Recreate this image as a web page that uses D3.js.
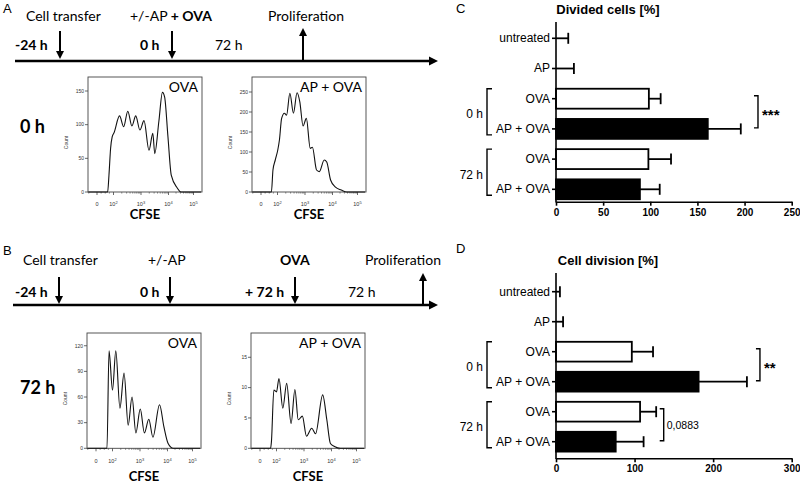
<!DOCTYPE html>
<html><head><meta charset="utf-8">
<script src="https://cdn.jsdelivr.net/npm/d3@7"></script>
<style>body{margin:0;background:#fff}svg{display:block}</style>
</head><body><svg id="c" width="800" height="483"></svg>
<script>
// ---------- DATA ----------
// Histogram CFSE axis (logicle decades) and tick labels
const histTickPos = [0, 2, 3, 4, 5];
const histTickExp = [null, "2", "3", "4", "5"];

// Panel A, 0 h, OVA
const a1X = [-1.05, 1.29, 1.45, 1.65, 1.84, 2.02, 2.22, 2.37, 2.52, 2.67, 2.81, 2.96, 3.11, 3.29, 3.43, 3.5, 3.65, 3.78, 3.86, 3.98, 4.11, 4.35, 4.5, 5.3];
const a1Y = [0, 0, 25, 65, 82, 88, 113, 97, 120, 98, 113, 92, 106, 62, 87, 57, 105, 148, 141, 82, 25, 6, 0, 0];
const a1Ticks = [0, 50, 100, 150];
// Panel A, 0 h, AP + OVA
const a2X = [-1.05, 1.26, 1.45, 1.73, 2.01, 2.07, 2.15, 2.25, 2.33, 2.45, 2.58, 2.71, 2.81, 2.93, 3.05, 3.19, 3.27, 3.42, 3.52, 3.70, 3.79, 3.93, 4.12, 4.35, 4.57, 5.3];
const a2Y = [0, 0, 55, 80, 105, 130, 184, 197, 192, 247, 197, 248, 226, 165, 184, 109, 112, 55, 51, 80, 75, 30, 12, 5, 0, 0];
const a2Ticks = [0, 50, 100, 150, 200, 250];
// Panel B, 72 h, OVA
const b1X = [-1.05, 1.33, 1.58, 2.0, 2.12, 2.27, 2.42, 2.57, 2.71, 2.85, 3.01, 3.16, 3.32, 3.47, 3.71, 3.87, 4.02, 4.23, 5.3];
const b1Y = [0, 0, 114, 68, 114, 47, 88, 27, 60, 18, 46, 18, 34, 13, 51, 25, 6, 0, 0];
const b1Ticks = [0, 30, 60, 90, 120];
// Panel B, 72 h, AP + OVA
const b2X = [-1.05, 1.28, 1.38, 1.68, 2.0, 2.09, 2.23, 2.37, 2.53, 2.67, 2.79, 2.94, 3.09, 3.28, 3.42, 3.68, 3.83, 3.96, 4.12, 4.35, 5.3];
const b2Y = [0, 0, 1, 9.6, 9.3, 11.5, 6.6, 10.7, 4.1, 9.7, 4.7, 5.3, 2.0, 3.3, 2.4, 8.8, 4.7, 0.8, 0.3, 0, 0];
const b2Ticks = [0, 5, 10, 15];

// Bar charts
const categories = ["untreated", "AP", "OVA", "AP + OVA", "OVA", "AP + OVA"];
const groups = [{label: "0 h", from: 2, to: 3}, {label: "72 h", from: 4, to: 5}];
const dividedMean = [0, 0, 98.5, 161, 98, 89];
const dividedUpper = [13, 19, 111, 196, 122, 110];
const dividedTicks = [0, 50, 100, 150, 200, 250];
const dividedSig = [{from: 2, to: 3, at: 210, label: "***"}];
const divisionMean = [0, 0, 96.5, 181.5, 107, 76];
const divisionUpper = [5, 9, 123.5, 243, 127.5, 111.5];
const divisionTicks = [0, 100, 200, 300];
const divisionSig = [{from: 2, to: 3, at: 254.5, label: "**"}, {from: 4, to: 5, at: 132, label: "0,0883"}];

// ---------- DRAW ----------
const svg = d3.select("#c");
const SANS = "'Liberation Sans', Arial, sans-serif";
const CAL = "Lato, 'Open Sans', sans-serif";

function txt(x, y, s, size, opts = {}) {
  return svg.append("text").attr("x", x).attr("y", y).text(s)
    .attr("font-family", opts.family || CAL).attr("font-size", size)
    .attr("font-weight", opts.bold ? "bold" : "normal")
    .attr("text-anchor", opts.anchor || "start").attr("fill", "#000");
}
function arrowDown(x, y1, y2) {
  svg.append("line").attr("x1", x).attr("x2", x).attr("y1", y1).attr("y2", y2 - 6).attr("stroke", "#000").attr("stroke-width", 2);
  svg.append("path").attr("d", `M${x - 4},${y2 - 8}L${x + 4},${y2 - 8}L${x},${y2}Z`).attr("fill", "#000");
}
function arrowUp(x, y1, y2) {
  svg.append("line").attr("x1", x).attr("x2", x).attr("y1", y1).attr("y2", y2 + 6).attr("stroke", "#000").attr("stroke-width", 2);
  svg.append("path").attr("d", `M${x - 4},${y2 + 8}L${x + 4},${y2 + 8}L${x},${y2}Z`).attr("fill", "#000");
}
function timeline(y, x1, x2) {
  svg.append("line").attr("x1", x1).attr("x2", x2 - 6).attr("y1", y).attr("y2", y).attr("stroke", "#000").attr("stroke-width", 2.5);
  svg.append("path").attr("d", `M${x2 - 9},${y - 4.5}L${x2},${y}L${x2 - 9},${y + 4.5}Z`).attr("fill", "#000");
}

// Panel A timeline
txt(3, 13, "A", 13, {family: SANS});
txt(26, 21, "Cell transfer", 14);
const tA = txt(130, 21, "", 14);
tA.append("tspan").text("+/-AP ");
tA.append("tspan").attr("font-weight", "bold").text("+ OVA");
txt(268, 21, "Proliferation", 14);
txt(15, 50, "-24 h", 14, {bold: true});
txt(140, 50, "0 h", 14, {bold: true});
txt(215, 50, "72 h", 14);
timeline(61, 15, 438);
arrowDown(60, 31, 59);
arrowDown(172, 31, 59);
arrowUp(303, 60, 28);

// Panel B timeline
txt(3, 255, "B", 13, {family: SANS});
txt(23, 265, "Cell transfer", 14);
txt(148, 265, "+/-AP", 14);
txt(280, 265, "OVA", 14, {bold: true});
txt(365, 265, "Proliferation", 14);
txt(15, 297, "-24 h", 14, {bold: true});
txt(140, 297, "0 h", 14, {bold: true});
txt(245, 297, "+ 72 h", 14, {bold: true});
txt(348, 297, "72 h", 14);
timeline(305, 13, 438);
arrowDown(59, 277, 304);
arrowDown(170, 277, 304);
arrowDown(295, 277, 304);
arrowUp(423, 304, 273);

txt(20, 133, "0 h", 18, {bold: true});
txt(20, 394, "72 h", 18, {bold: true});

// Histograms
function histo(o) {
  const W = 114;
  const g = svg.append("g");
  const x = d3.scaleLinear().domain(histTickPos)
    .range([o.left + 9, o.left + 25.5, o.left + 53, o.left + 80.5, o.left + 105.5]);
  const y = d3.scaleLinear().domain([0, o.yMax]).range([o.bottom, o.top]);
  g.append("rect").attr("x", o.left).attr("y", o.top).attr("width", W).attr("height", o.bottom - o.top)
    .attr("fill", "none").attr("stroke", "#444").attr("stroke-width", 0.9);
  o.yTicks.forEach(t => {
    g.append("line").attr("x1", o.left - 3).attr("x2", o.left).attr("y1", y(t)).attr("y2", y(t)).attr("stroke", "#444").attr("stroke-width", 0.8);
    g.append("text").attr("x", o.left - 4).attr("y", y(t) + 1.8).text(t).attr("font-family", SANS)
      .attr("font-size", 5).attr("text-anchor", "end").attr("fill", "#333");
  });
  g.append("text").attr("transform", `translate(${o.left - 20},${(o.top + o.bottom) / 2 + 8}) rotate(-90)`)
    .text("Count").attr("font-family", SANS).attr("font-size", 5).attr("text-anchor", "middle").attr("fill", "#333");
  // x ticks
  histTickPos.forEach((p, i) => {
    g.append("line").attr("x1", x(p)).attr("x2", x(p)).attr("y1", o.bottom).attr("y2", o.bottom + 3).attr("stroke", "#444").attr("stroke-width", 0.8);
    const t = g.append("text").attr("x", x(p)).attr("y", o.tickY).attr("font-family", SANS).attr("font-size", 5.5)
      .attr("text-anchor", "middle").attr("fill", "#333");
    if (histTickExp[i] === null) t.text("0");
    else { t.append("tspan").text("10"); t.append("tspan").attr("dy", -2.5).attr("font-size", 4).text(histTickExp[i]); }
  });
  for (let d = 2; d < 5; d++) for (let k = 2; k <= 9; k++) {
    const p = d + Math.log10(k);
    g.append("line").attr("x1", x(p)).attr("x2", x(p)).attr("y1", o.bottom).attr("y2", o.bottom + 1.6).attr("stroke", "#444").attr("stroke-width", 0.6);
  }
  [-1, 0.5, 1, 1.5].forEach(p => g.append("line").attr("x1", x(p)).attr("x2", x(p)).attr("y1", o.bottom).attr("y2", o.bottom + 1.6).attr("stroke", "#444").attr("stroke-width", 0.6));
  const line = d3.line().x((d, i) => x(o.xs[i])).y(d => y(d)).curve(d3.curveMonotoneX);
  g.append("path").attr("d", line(o.ys)).attr("fill", "none").attr("stroke", "#111").attr("stroke-width", 1.1);
  g.append("text").attr("x", o.left + W - 4).attr("y", o.top + 15).text(o.label).attr("font-family", CAL)
    .attr("font-size", 14).attr("text-anchor", "end").attr("fill", "#000");
  g.append("text").attr("x", o.left + 57).attr("y", o.cfseY).text("CFSE").attr("font-family", CAL)
    .attr("font-size", 13).attr("font-weight", "bold").attr("text-anchor", "middle").attr("fill", "#000");
}
histo({left: 88, top: 77, bottom: 192, yMax: 170.8, yTicks: a1Ticks, xs: a1X, ys: a1Y, label: "OVA", tickY: 206, cfseY: 219});
histo({left: 252, top: 77, bottom: 192, yMax: 287.5, yTicks: a2Ticks, xs: a2X, ys: a2Y, label: "AP + OVA", tickY: 206, cfseY: 219});
histo({left: 87, top: 333, bottom: 448.3, yMax: 134.9, yTicks: b1Ticks, xs: b1X, ys: b1Y, label: "OVA", tickY: 463, cfseY: 481});
histo({left: 251, top: 333, bottom: 448.3, yMax: 19.0, yTicks: b2Ticks, xs: b2X, ys: b2Y, label: "AP + OVA", tickY: 463, cfseY: 481});

// Bar charts
function barChart(o) {
  const g = svg.append("g");
  const x = d3.scaleLinear().domain([0, o.ticks[o.ticks.length - 1]]).range([556, 791.7]);
  const y = d3.scaleBand().domain(d3.range(categories.length)).range(o.yRange).paddingInner(0.34).paddingOuter(0.17);
  const cy = i => y(i) + y.bandwidth() / 2;
  // bars
  g.selectAll("rect.bar").data(o.mean).join("rect").attr("class", "bar")
    .attr("x", x(0)).attr("y", (d, i) => y(i)).attr("width", d => x(d) - x(0)).attr("height", y.bandwidth())
    .attr("fill", (d, i) => categories[i] === "AP + OVA" ? "#000" : "#fff")
    .attr("stroke", "#000").attr("stroke-width", 1.8)
    .attr("display", d => d > 0 ? null : "none");
  // error bars
  o.upper.forEach((u, i) => {
    g.append("line").attr("x1", x(o.mean[i])).attr("x2", x(u)).attr("y1", cy(i)).attr("y2", cy(i)).attr("stroke", "#000").attr("stroke-width", 1.8);
    g.append("line").attr("x1", x(u)).attr("x2", x(u)).attr("y1", cy(i) - 5.5).attr("y2", cy(i) + 5.5).attr("stroke", "#000").attr("stroke-width", 1.8);
  });
  // axes
  const xa = g.append("g").attr("transform", `translate(0,${o.axisY})`)
    .call(d3.axisBottom(x).tickValues(o.ticks).tickSize(4).tickSizeOuter(0).tickPadding(3));
  xa.select(".domain").attr("stroke-width", 1.6);
  xa.selectAll(".tick line").attr("stroke-width", 1.6);
  xa.selectAll("text").attr("font-family", SANS).attr("font-size", 10).attr("font-weight", "bold");
  const ya = g.append("g").attr("transform", `translate(556,0)`)
    .call(d3.axisLeft(y).tickFormat(i => categories[i]).tickSize(4).tickPadding(2));
  ya.select(".domain").remove();
  ya.selectAll(".tick line").attr("stroke-width", 1.6);
  ya.selectAll("text").attr("font-family", SANS).attr("font-size", 12).attr("fill", "#000");
  g.append("line").attr("x1", 556).attr("x2", 556).attr("y1", o.yTop).attr("y2", o.axisY + 0.8).attr("stroke", "#000").attr("stroke-width", 1.6);
  // group brackets
  groups.forEach(gr => {
    const t = cy(gr.from) - 10, b = cy(gr.to) + 6;
    g.append("path").attr("d", `M492,${t}H487V${b}H492`).attr("fill", "none").attr("stroke", "#000").attr("stroke-width", 1.4);
    g.append("text").attr("x", 483).attr("y", (cy(gr.from) + cy(gr.to)) / 2 + 4.5).text(gr.label)
      .attr("font-family", SANS).attr("font-size", 12).attr("text-anchor", "end");
  });
  // significance brackets
  o.sig.forEach(s => {
    const t = cy(s.from) - 3, b = cy(s.to) - 1, xs = x(s.at);
    g.append("path").attr("d", `M${xs},${t}H${xs + 4}V${b}H${xs}`).attr("fill", "none").attr("stroke", "#000").attr("stroke-width", 1.4);
    const star = s.label.startsWith("*");
    g.append("text").attr("x", xs + (star ? 8 : 7)).attr("y", (t + b) / 2 + (star ? 8 : 4))
      .text(s.label).attr("font-family", SANS).attr("font-size", star ? 15 : 10.5)
      .attr("font-weight", star ? "bold" : "normal");
  });
  g.append("text").attr("x", 456).attr("y", o.letterY).text(o.letter).attr("font-family", SANS).attr("font-size", 13);
  g.append("text").attr("x", 608).attr("y", o.titleY).text(o.title).attr("font-family", SANS)
    .attr("font-size", 13).attr("font-weight", "bold").attr("text-anchor", "middle");
}
barChart({mean: dividedMean, upper: dividedUpper, ticks: dividedTicks, sig: dividedSig,
  yRange: [23.2, 204.4], yTop: 22, axisY: 201.7, letter: "C", letterY: 13, title: "Divided cells [%]", titleY: 14});
barChart({mean: divisionMean, upper: divisionUpper, ticks: divisionTicks, sig: divisionSig,
  yRange: [276.7, 456.7], yTop: 273, axisY: 458.3, letter: "D", letterY: 253, title: "Cell division [%]", titleY: 265});
</script></body></html>
